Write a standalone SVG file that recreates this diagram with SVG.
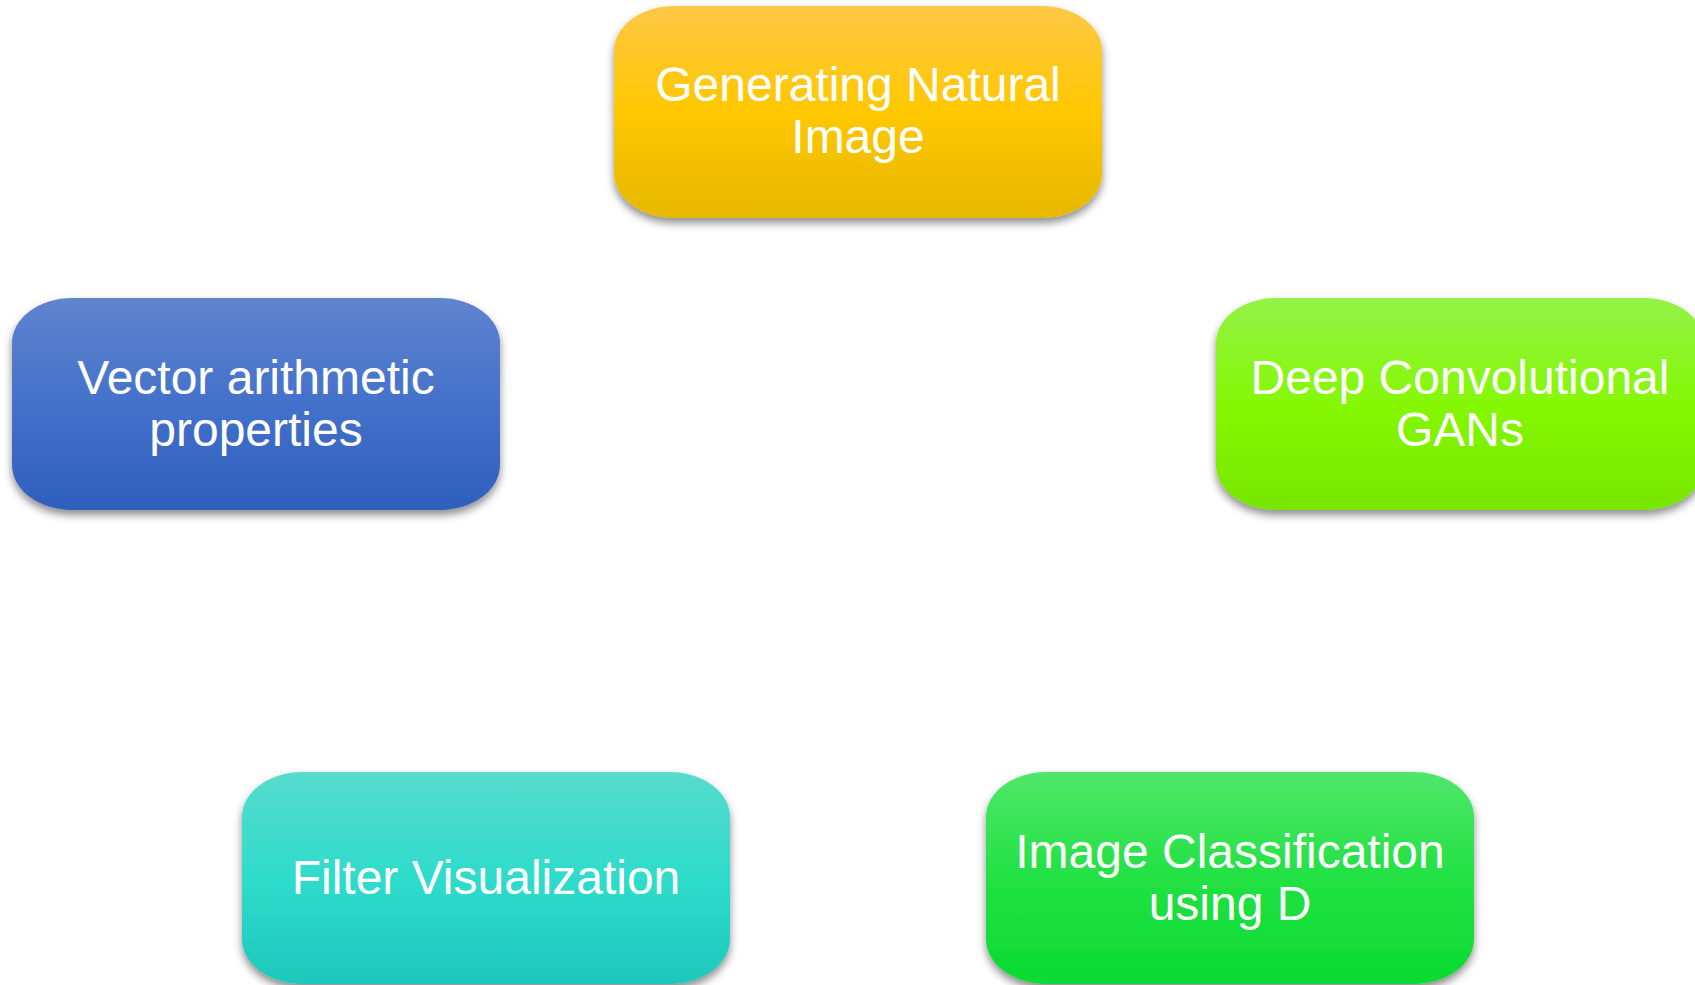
<svg xmlns="http://www.w3.org/2000/svg" width="1695" height="985" viewBox="0 0 1695 985">
<style>
.box{filter:url(#sh);}
.lbl{font-family:"Liberation Sans",Arial,sans-serif;font-size:48px;fill:#ffffff;text-anchor:middle;}
</style>
<defs>
<filter id="sh" x="-10%" y="-10%" width="120%" height="130%">
<feDropShadow dx="0" dy="5" stdDeviation="4" flood-color="#000" flood-opacity="0.45"/>
</filter>
<linearGradient id="gTop" x1="0" y1="0" x2="0" y2="1">
<stop offset="0" stop-color="#FFC845"/><stop offset="0.5" stop-color="#FFC800"/><stop offset="1" stop-color="#E6B800"/>
</linearGradient>
<linearGradient id="gLeft" x1="0" y1="0" x2="0" y2="1">
<stop offset="0" stop-color="#6084CD"/><stop offset="0.5" stop-color="#4371CB"/><stop offset="1" stop-color="#2F5FBC"/>
</linearGradient>
<linearGradient id="gRight" x1="0" y1="0" x2="0" y2="1">
<stop offset="0" stop-color="#93F247"/><stop offset="0.5" stop-color="#85F805"/><stop offset="1" stop-color="#77E600"/>
</linearGradient>
<linearGradient id="gBL" x1="0" y1="0" x2="0" y2="1">
<stop offset="0" stop-color="#57DBCD"/><stop offset="0.5" stop-color="#2FDCCB"/><stop offset="1" stop-color="#1DC8BC"/>
</linearGradient>
<linearGradient id="gBR" x1="0" y1="0" x2="0" y2="1">
<stop offset="0" stop-color="#50E76B"/><stop offset="0.5" stop-color="#22E143"/><stop offset="1" stop-color="#0ADA31"/>
</linearGradient>
</defs>
<rect width="1695" height="985" fill="#ffffff"/>
<g id="connectors"></g>
<g id="node-generating">
<rect class="box" x="614" y="6" width="488" height="212" rx="60" ry="45" fill="url(#gTop)"/>
<text class="lbl" x="858" y="101">Generating Natural</text>
<text class="lbl" x="858" y="153">Image</text>
</g>
<g id="node-vector">
<rect class="box" x="12" y="298" width="488" height="212" rx="60" ry="45" fill="url(#gLeft)"/>
<text class="lbl" x="256" y="394">Vector arithmetic</text>
<text class="lbl" x="256" y="446">properties</text>
</g>
<g id="node-dcgan">
<rect class="box" x="1216" y="298" width="488" height="212" rx="60" ry="45" fill="url(#gRight)"/>
<text class="lbl" x="1460" y="394">Deep Convolutional</text>
<text class="lbl" x="1460" y="446">GANs</text>
</g>
<g id="node-filter">
<rect class="box" x="242" y="772" width="488" height="212" rx="60" ry="45" fill="url(#gBL)"/>
<text class="lbl" x="486" y="894">Filter Visualization</text>
</g>
<g id="node-classification">
<rect class="box" x="986" y="772" width="488" height="212" rx="60" ry="45" fill="url(#gBR)"/>
<text class="lbl" x="1230" y="868">Image Classification</text>
<text class="lbl" x="1230" y="920">using D</text>
</g>
</svg>
